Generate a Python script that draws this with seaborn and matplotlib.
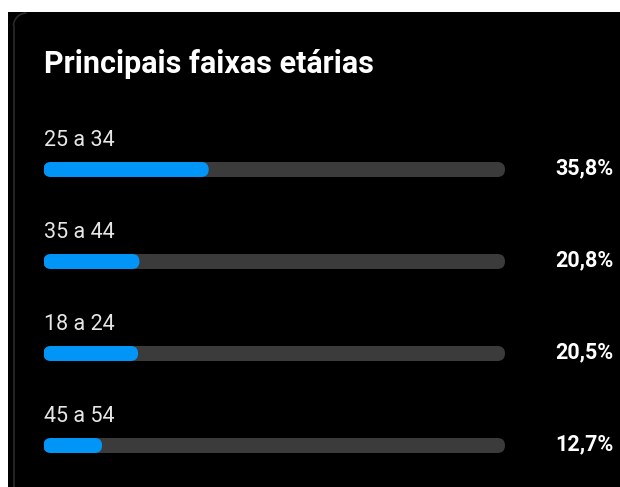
import matplotlib
matplotlib.use('Agg')
import matplotlib.pyplot as plt
from matplotlib.patches import FancyBboxPatch, Rectangle, Arc
from matplotlib.lines import Line2D
import seaborn as sns
import pandas as pd

sns.set_theme(style='white')
plt.rcParams['font.family'] = ['Roboto', 'DejaVu Sans']

# data
title = 'Principais faixas etárias'
faixas = ['25 a 34', '35 a 44', '18 a 24', '45 a 54']
valores = [35.8, 20.8, 20.5, 12.7]
rotulos = ['35,8%', '20,8%', '20,5%', '12,7%']

df = pd.DataFrame({'faixa': faixas, 'valor': valores, 'total': [100] * len(faixas)})

W, H = 620, 487
fig = plt.figure(figsize=(W / 100, H / 100), dpi=100)
fig.patch.set_facecolor('white')

# black card (cropped screenshot) with faint rounded border on the left
fig.patches.append(Rectangle((8 / W, 0), 1, (H - 12) / H, transform=fig.transFigure,
                             facecolor='black', edgecolor='none', zorder=-10))
rad = 13
fig.lines.append(Line2D([13.5 / W, 13.5 / W], [0, (H - 13 - rad) / H],
                        transform=fig.transFigure, color='#2a2a2a', lw=1.2, zorder=-9))
fig.patches.append(Arc(((13.5 + rad) / W, (H - 13 - rad) / H), 2 * rad / W, 2 * rad / H,
                       theta1=90, theta2=180, transform=fig.transFigure,
                       color='#2a2a2a', lw=1.2, zorder=-9))

fig.text(44 / W, 1 - 64 / H, title, color='white', fontsize=22,
         fontweight='bold', va='center', ha='left')

# bar axes
step = 92.0
left_px, right_px = 43.5, 505
ax = fig.add_axes([left_px / W, (H - (169.5 + 3.4 * step)) / H,
                   (right_px - left_px) / W, 4 * step / H])
ax.set_facecolor('none')

bar_h = 15 / step
sns.barplot(data=df, x='total', y='faixa', orient='h', color='#3b3b3b',
            width=bar_h, saturation=1, ax=ax)
sns.barplot(data=df, x='valor', y='faixa', orient='h', color='#0095f6',
            width=bar_h, saturation=1, ax=ax)
ax.set_xlim(0, 100)
ax.set_ylim(3.4, -0.6)
ax.axis('off')

# round the bar ends
xpp = 100 / (right_px - left_px)
ypp = 1 / step
r = 7.5 * xpp
for p in list(ax.patches):
    x0, y0 = p.get_x(), p.get_y()
    w, h = p.get_width(), p.get_height()
    rb = FancyBboxPatch((x0, y0), w, h,
                        boxstyle=f'round,pad=0,rounding_size={r}',
                        mutation_aspect=ypp / xpp,
                        facecolor=p.get_facecolor(), edgecolor='none')
    p.remove()
    ax.add_patch(rb)

for i, (f, lab) in enumerate(zip(faixas, rotulos)):
    ax.text(0, i - 23.7 / step, f, color='#e6e6e6', fontsize=15.5,
            ha='left', va='baseline')
    ax.text(100 + (613 - right_px) * xpp, i + 4.5 / step, lab, color='white',
            fontsize=15.5, fontweight='bold', ha='right', va='baseline',
            clip_on=False)

fig.savefig('out.png', dpi=100)
